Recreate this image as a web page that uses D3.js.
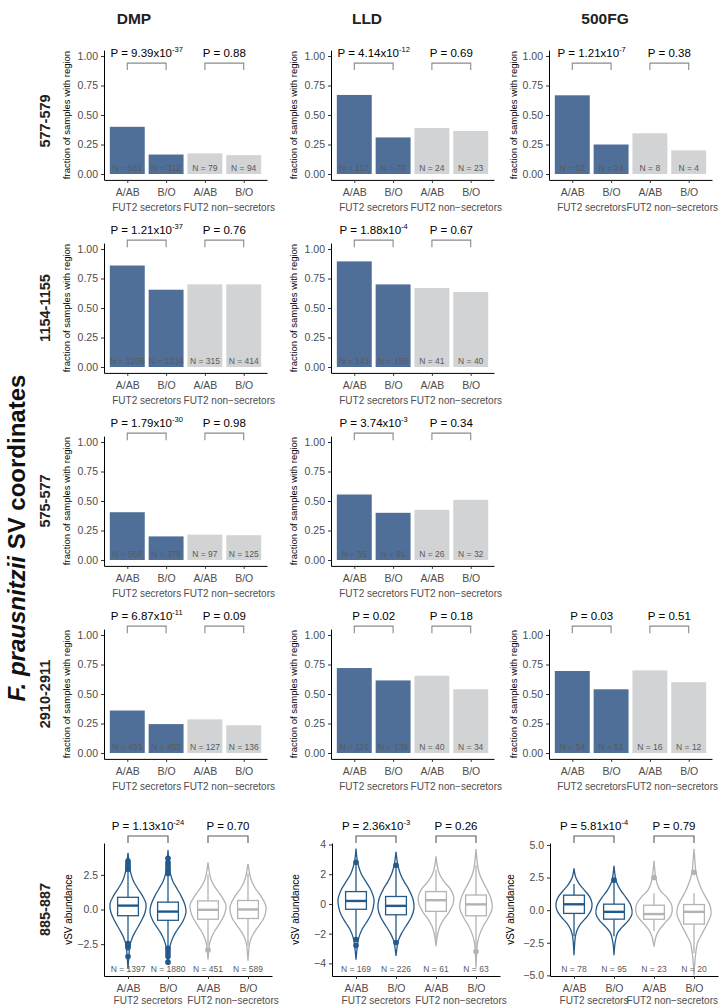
<!DOCTYPE html>
<html><head><meta charset="utf-8">
<script src="https://cdn.jsdelivr.net/npm/d3@7"></script>
<style>body{margin:0;background:#fff} svg{display:block} text{font-family:"Liberation Sans",Arial,Helvetica,sans-serif}</style>
</head><body><svg id="c" width="720" height="1008"></svg>
<script>
// ---------------- DATA ----------------
const cohorts = ["DMP", "LLD", "500FG"];
const regions = ["577-579", "1154-1155", "575-577", "2910-2911", "885-887"];
const bloodGroups = ["A/AB", "B/O", "A/AB", "B/O"];
const fut2Groups = ["FUT2 secretors", "FUT2 non\u2212secretors"];
const fracTicks = [0, 0.25, 0.5, 0.75, 1];
const fracTickLabels = ["0.00", "0.25", "0.50", "0.75", "1.00"];

// fraction of samples with region (sec A/AB, sec B/O, non-sec A/AB, non-sec B/O)
const frac_577_579_DMP   = [0.40, 0.165, 0.175, 0.16];
const frac_577_579_LLD   = [0.67, 0.31, 0.39, 0.365];
const frac_577_579_500FG = [0.667, 0.25, 0.345, 0.20];
const frac_1154_1155_DMP = [0.86, 0.655, 0.70, 0.70];
const frac_1154_1155_LLD = [0.895, 0.70, 0.67, 0.635];
const frac_575_577_DMP   = [0.405, 0.20, 0.215, 0.21];
const frac_575_577_LLD   = [0.555, 0.40, 0.425, 0.51];
const frac_2910_2911_DMP = [0.36, 0.245, 0.285, 0.235];
const frac_2910_2911_LLD = [0.72, 0.615, 0.655, 0.54];
const frac_2910_2911_500FG = [0.695, 0.54, 0.70, 0.60];

// sample sizes
const n_577_579_DMP   = [561, 312, 79, 94];
const n_577_579_LLD   = [107, 70, 24, 23];
const n_577_579_500FG = [52, 24, 8, 4];
const n_1154_1155_DMP = [1205, 1234, 315, 414];
const n_1154_1155_LLD = [143, 159, 41, 40];
const n_575_577_DMP   = [568, 378, 97, 125];
const n_575_577_LLD   = [55, 91, 26, 32];
const n_2910_2911_DMP = [493, 455, 127, 136];
const n_2910_2911_LLD = [116, 139, 40, 34];
const n_2910_2911_500FG = [54, 51, 16, 12];
const n_885_887_DMP   = [1397, 1880, 451, 589];
const n_885_887_LLD   = [169, 226, 61, 63];
const n_885_887_500FG = [78, 95, 23, 20];

// P values (secretors, non-secretors)
const p_577_579_DMP   = ["9.39x10^-37", "0.88"];
const p_577_579_LLD   = ["4.14x10^-12", "0.69"];
const p_577_579_500FG = ["1.21x10^-7", "0.38"];
const p_1154_1155_DMP = ["1.21x10^-37", "0.76"];
const p_1154_1155_LLD = ["1.88x10^-4", "0.67"];
const p_575_577_DMP   = ["1.79x10^-30", "0.98"];
const p_575_577_LLD   = ["3.74x10^-3", "0.34"];
const p_2910_2911_DMP = ["6.87x10^-11", "0.09"];
const p_2910_2911_LLD = ["0.02", "0.18"];
const p_2910_2911_500FG = ["0.03", "0.51"];
const p_885_887_DMP   = ["1.13x10^-24", "0.70"];
const p_885_887_LLD   = ["2.36x10^-3", "0.26"];
const p_885_887_500FG = ["5.81x10^-4", "0.79"];

// vSV abundance (885-887): box stats [whiskerLo, q1, median, q3, whiskerHi]
const box_DMP   = [[-2.4, -0.45, 0.28, 0.88, 2.85], [-2.7, -0.78, -0.15, 0.53, 2.5], [-2.6, -0.7, -0.02, 0.62, 2.5], [-2.6, -0.65, 0.0, 0.65, 2.6]];
const box_LLD   = [[-2.3, -0.36, 0.2, 0.83, 2.7], [-2.5, -0.73, -0.13, 0.5, 2.45], [-2.4, -0.5, 0.25, 0.83, 2.3], [-3.0, -0.8, -0.03, 0.6, 2.6]];
const box_500FG = [[-2.0, -0.25, 0.45, 1.15, 2.0], [-2.0, -0.69, -0.13, 0.46, 2.1], [-1.6, -0.7, -0.3, 0.38, 1.3], [-3.3, -1.07, -0.13, 0.43, 1.3]];
const outliers_DMP   = [[2.9, 3.05, 3.2, 3.35, 3.5, -2.45, -2.6, -2.75, -3.4], [2.6, 2.8, 3.0, 3.2, 3.4, 3.7, -2.8, -3.0, -3.2, -3.4, -3.8], [-2.9], []];
const outliers_LLD   = [[2.8, -2.4, -2.8], [2.6, -2.6], [], [-3.2]];
const outliers_500FG = [[], [2.3], [2.5], [2.9]];
// violin outlines: [value, relative half-width]
const violin_DMP = [
  [[4.1,0],[3.5,0.05],[3,0.1],[2.5,0.18],[2,0.32],[1.5,0.55],[1,0.8],[0.4,1.0],[-0.2,0.95],[-0.8,0.75],[-1.5,0.45],[-2,0.25],[-2.5,0.12],[-3,0.07],[-3.5,0.04],[-4.3,0]],
  [[4.3,0],[3.5,0.04],[3,0.08],[2.5,0.15],[2,0.28],[1.5,0.5],[1,0.72],[0.3,0.95],[-0.2,1.0],[-0.8,0.85],[-1.5,0.5],[-2,0.28],[-2.5,0.14],[-3,0.07],[-3.9,0]],
  [[3.4,0],[3,0.04],[2.5,0.1],[2,0.22],[1.5,0.45],[1,0.72],[0.3,1],[-0.4,0.9],[-1,0.65],[-1.5,0.4],[-2,0.2],[-2.5,0.08],[-3,0.04],[-3.6,0]],
  [[3.3,0],[3,0.04],[2.5,0.1],[2,0.22],[1.5,0.42],[1,0.7],[0.2,1],[-0.5,0.92],[-1,0.7],[-1.5,0.42],[-2,0.2],[-2.5,0.08],[-3,0.04],[-3.7,0]]
];
const violin_LLD = [
  [[3.73,0],[3,0.06],[2.5,0.15],[2,0.3],[1.5,0.55],[1,0.8],[0.3,1],[-0.3,0.95],[-0.8,0.8],[-1.3,0.55],[-1.8,0.3],[-2.3,0.15],[-3,0.06],[-3.75,0]],
  [[3.5,0],[3,0.05],[2.5,0.12],[2,0.25],[1.5,0.45],[1,0.7],[0.3,0.95],[-0.3,1],[-0.9,0.85],[-1.5,0.55],[-2,0.3],[-2.5,0.12],[-3,0.05],[-3.5,0]],
  [[3.2,0],[2.5,0.08],[2,0.2],[1.5,0.45],[1,0.8],[0.5,0.98],[0,0.95],[-0.5,0.75],[-1,0.45],[-1.5,0.22],[-2,0.1],[-2.85,0]],
  [[3.7,0],[3,0.05],[2.5,0.1],[2,0.2],[1.5,0.38],[1,0.6],[0.3,0.85],[-0.3,0.9],[-1,0.65],[-1.5,0.4],[-2,0.22],[-2.5,0.1],[-3,0.05],[-4.3,0]]
];
const violin_500FG = [
  [[3.2,0],[2.5,0.1],[2,0.3],[1.5,0.6],[1,0.88],[0.5,1],[0,0.95],[-0.5,0.72],[-1,0.4],[-1.5,0.18],[-2,0.08],[-2.5,0.04],[-3.45,0]],
  [[3.4,0],[2.5,0.08],[2,0.18],[1.5,0.38],[1,0.65],[0.3,0.95],[-0.3,1],[-0.8,0.8],[-1.3,0.45],[-1.8,0.18],[-2.5,0.06],[-3.45,0]],
  [[3.8,0],[3,0.05],[2.5,0.1],[2,0.18],[1.5,0.35],[1,0.7],[0.3,1],[-0.4,0.95],[-1,0.6],[-1.5,0.3],[-2,0.12],[-2.8,0]],
  [[4.7,0],[4,0.04],[3,0.1],[2.5,0.18],[2,0.3],[1.5,0.45],[1,0.65],[0.3,0.9],[-0.3,0.95],[-1,0.75],[-1.8,0.45],[-2.5,0.2],[-3.5,0.08],[-5.0,0]]
];
const violinTicks_DMP = [-2.5, 0, 2.5];
const violinTicks_LLD = [-4, -2, 0, 2, 4];
const violinTicks_500FG = [-5, -2.5, 0, 2.5, 5];
const violinDomain_DMP = [-4.8, 4.8];
const violinDomain_LLD = [-4.85, 4.1];
const violinDomain_500FG = [-5.05, 5.15];

// ---------------- LAYOUT ----------------
const L = {
  barX: [104, 331, 549], barW: 163,
  rowTop: [56, 249, 442, 635], unit: 118,
  vioX: [104, 332, 550], vioW: 168, vioTop: 843, vioBot: 976,
  yTitleBar: [70, 297, 517], yTitleVio: [72, 299, 514],
  colTitleX: [134, 367, 605], rowLabelX: 45, bigLabelX: 17, maxRight: 718
};
const blue = "#4f6f99", gray = "#d1d3d5", vBlue = "#245a89", vGray = "#b3b3b3";
const tickCol = "#4d4d4d";

const svg = d3.select("#c");

function pLabel(g, x, y, str) {
  const t = g.append("text").attr("x", x).attr("y", y).attr("text-anchor", "middle")
    .attr("font-size", 11.5).attr("fill", "#000");
  const parts = str.split("^");
  t.append("tspan").text("P = " + parts[0]);
  if (parts[1]) t.append("tspan").attr("font-size", 7.5).attr("dy", -5).text(parts[1]);
}

function styleAxis(ax) {
  ax.select(".domain").attr("stroke", "#000").attr("stroke-width", 1);
  ax.selectAll(".tick line").attr("stroke", "#333");
  ax.selectAll(".tick text").attr("fill", tickCol).attr("font-size", 10.5)
    .attr("font-family", '"Liberation Sans",Arial,sans-serif');
}

function xAxisAndGroups(g, x, yBottom, labOff) {
  const ax = g.append("g").attr("transform", `translate(0,${yBottom})`)
    .call(d3.axisBottom(x).tickSize(3).tickSizeOuter(0).tickFormat(i => bloodGroups[i]));
  styleAxis(ax);
  ax.selectAll(".tick text").attr("dy", "0.95em");
  fut2Groups.forEach((lab, k) => {
    const t = g.append("text").attr("x", (x(2 * k) + x(2 * k + 1)) / 2 + k * 5).attr("y", yBottom + labOff)
      .attr("text-anchor", "middle").attr("font-size", 10).attr("fill", tickCol).text(lab);
    const bb = t.node().getBBox();
    if (bb.x + bb.width > L.maxRight) t.attr("x", +t.attr("x") - (bb.x + bb.width - L.maxRight));
  });
}

function bracket(g, xa, xb, yTop, len, stroke) {
  g.append("path").attr("d", `M${xa},${yTop + len}V${yTop}H${xb}V${yTop + len}`)
    .attr("fill", "none").attr("stroke", stroke).attr("stroke-width", 1.1);
}

function barPanel(row, col, frac, n, p) {
  const g = svg.append("g");
  const top1 = L.rowTop[row];
  const y = d3.scaleLinear().domain([0, 1]).range([top1 + L.unit, top1]);
  const x = d3.scalePoint().domain([0, 1, 2, 3]).range([L.barX[col], L.barX[col] + L.barW]).padding(0.6);
  const bw = x.step() * 0.9;
  g.selectAll("rect").data(frac).join("rect")
    .attr("x", (d, i) => x(i) - bw / 2).attr("width", bw)
    .attr("y", d => y(d)).attr("height", d => y(0) - y(d))
    .attr("fill", (d, i) => i < 2 ? blue : gray);
  g.selectAll("text.n").data(n).join("text").attr("class", "n")
    .attr("x", (d, i) => x(i)).attr("y", y(0) - 3).attr("text-anchor", "middle")
    .attr("font-size", 8.5).attr("fill", "#5a5a5a").text(d => "N = " + d);
  const yAx = g.append("g").attr("transform", `translate(${L.barX[col]},0)`)
    .call(d3.axisLeft(y.copy().domain([-0.05, 1.05]).range([y(-0.05), y(1.05)]))
      .tickValues(fracTicks).tickSize(3).tickSizeOuter(0).tickFormat((d, i) => fracTickLabels[i]));
  styleAxis(yAx);
  xAxisAndGroups(g, x, y(-0.05), 31);
  // brackets
  const bTop = row === 0 ? y(0.94) : y(1.075);
  [0, 1].forEach(k => {
    bracket(g, x(2 * k), x(2 * k + 1), bTop, 7, "#8a8a8a");
    pLabel(g, (x(2 * k) + x(2 * k + 1)) / 2, bTop - 6, p[k]);
  });
  g.append("text").attr("transform", `translate(${L.yTitleBar[col]},${(y(-0.05) + y(1.05)) / 2}) rotate(-90)`)
    .attr("text-anchor", "middle").attr("font-size", 9.5).attr("fill", "#000").text("fraction of samples with region");
}

function violinPanel(col, prof, box, outl, n, p, ticks, dom) {
  const g = svg.append("g");
  const y = d3.scaleLinear().domain(dom).range([L.vioBot, L.vioTop]);
  const x = d3.scalePoint().domain([0, 1, 2, 3]).range([L.vioX[col], L.vioX[col] + L.vioW]).padding(0.6);
  const half = x.step() * 0.45, bh = x.step() * 0.26;
  prof.forEach((pr, i) => {
    const c = i < 2 ? vBlue : vGray, cx = x(i);
    const area = d3.area().curve(d3.curveCatmullRom.alpha(0.5))
      .y(d => y(d[0])).x0(d => cx - d[1] * half).x1(d => cx + d[1] * half);
    g.append("path").attr("d", area(pr)).attr("fill", "#fff").attr("stroke", c).attr("stroke-width", 1.3);
    const b = box[i];
    g.append("line").attr("x1", cx).attr("x2", cx).attr("y1", y(b[3])).attr("y2", y(b[4])).attr("stroke", c).attr("stroke-width", 1.3);
    g.append("line").attr("x1", cx).attr("x2", cx).attr("y1", y(b[1])).attr("y2", y(b[0])).attr("stroke", c).attr("stroke-width", 1.3);
    g.append("rect").attr("x", cx - bh).attr("width", 2 * bh).attr("y", y(b[3])).attr("height", y(b[1]) - y(b[3]))
      .attr("fill", "#fff").attr("stroke", c).attr("stroke-width", 1.3);
    g.append("line").attr("x1", cx - bh).attr("x2", cx + bh).attr("y1", y(b[2])).attr("y2", y(b[2])).attr("stroke", c).attr("stroke-width", 2.4);
    outl[i].forEach(v => g.append("circle").attr("cx", cx).attr("cy", y(v)).attr("r", 2.8).attr("fill", c));
  });
  g.selectAll("text.n").data(n).join("text").attr("class", "n")
    .attr("x", (d, i) => x(i)).attr("y", L.vioBot - 4).attr("text-anchor", "middle")
    .attr("font-size", 8.5).attr("fill", "#5a5a5a").text(d => "N = " + d);
  const yAx = g.append("g").attr("transform", `translate(${L.vioX[col]},0)`)
    .call(d3.axisLeft(y).tickValues(ticks).tickSize(3).tickSizeOuter(0)
      .tickFormat(d => (ticks.every(Number.isInteger) ? d3.format("d")(d) : d3.format(".1f")(d)).replace("-", "\u2212")));
  styleAxis(yAx);
  xAxisAndGroups(g, x, L.vioBot, 28);
  const bTop = L.vioTop - 7;
  [0, 1].forEach(k => {
    bracket(g, x(2 * k), x(2 * k + 1), bTop, 7, "#5a5a5a");
    pLabel(g, (x(2 * k) + x(2 * k + 1)) / 2, bTop - 6, p[k]);
  });
  g.append("text").attr("transform", `translate(${L.yTitleVio[col]},${(L.vioTop + L.vioBot) / 2}) rotate(-90)`)
    .attr("text-anchor", "middle").attr("font-size", 10).attr("fill", "#000").text("vSV abundance");
}

// bar rows
barPanel(0, 0, frac_577_579_DMP, n_577_579_DMP, p_577_579_DMP);
barPanel(0, 1, frac_577_579_LLD, n_577_579_LLD, p_577_579_LLD);
barPanel(0, 2, frac_577_579_500FG, n_577_579_500FG, p_577_579_500FG);
barPanel(1, 0, frac_1154_1155_DMP, n_1154_1155_DMP, p_1154_1155_DMP);
barPanel(1, 1, frac_1154_1155_LLD, n_1154_1155_LLD, p_1154_1155_LLD);
barPanel(2, 0, frac_575_577_DMP, n_575_577_DMP, p_575_577_DMP);
barPanel(2, 1, frac_575_577_LLD, n_575_577_LLD, p_575_577_LLD);
barPanel(3, 0, frac_2910_2911_DMP, n_2910_2911_DMP, p_2910_2911_DMP);
barPanel(3, 1, frac_2910_2911_LLD, n_2910_2911_LLD, p_2910_2911_LLD);
barPanel(3, 2, frac_2910_2911_500FG, n_2910_2911_500FG, p_2910_2911_500FG);
// violin row
violinPanel(0, violin_DMP, box_DMP, outliers_DMP, n_885_887_DMP, p_885_887_DMP, violinTicks_DMP, violinDomain_DMP);
violinPanel(1, violin_LLD, box_LLD, outliers_LLD, n_885_887_LLD, p_885_887_LLD, violinTicks_LLD, violinDomain_LLD);
violinPanel(2, violin_500FG, box_500FG, outliers_500FG, n_885_887_500FG, p_885_887_500FG, violinTicks_500FG, violinDomain_500FG);

// column titles
cohorts.forEach((c, i) => svg.append("text").attr("x", L.colTitleX[i]).attr("y", 24).attr("text-anchor", "middle")
  .attr("font-size", 15.5).attr("font-weight", "bold").attr("fill", "#222").text(c));
// row labels
const rowCenters = [L.rowTop[0] + 0.5 * L.unit + 6, L.rowTop[1] + 0.5 * L.unit, L.rowTop[2] + 0.5 * L.unit, L.rowTop[3] + 0.5 * L.unit, (L.vioTop + L.vioBot) / 2];
regions.forEach((r, i) => svg.append("text")
  .attr("transform", `translate(${L.rowLabelX + 5},${rowCenters[i]}) rotate(-90)`).attr("text-anchor", "middle")
  .attr("font-size", 14.5).attr("font-weight", "bold").attr("fill", "#222").text(r));
// big label
const big = svg.append("text").attr("transform", `translate(${L.bigLabelX + 8},${538}) rotate(-90)`)
  .attr("text-anchor", "middle").attr("font-size", 24).attr("font-weight", "bold").attr("fill", "#111");
big.append("tspan").attr("font-style", "italic").text("F. prausnitzii");
big.append("tspan").text(" SV coordinates");
</script></body></html>
